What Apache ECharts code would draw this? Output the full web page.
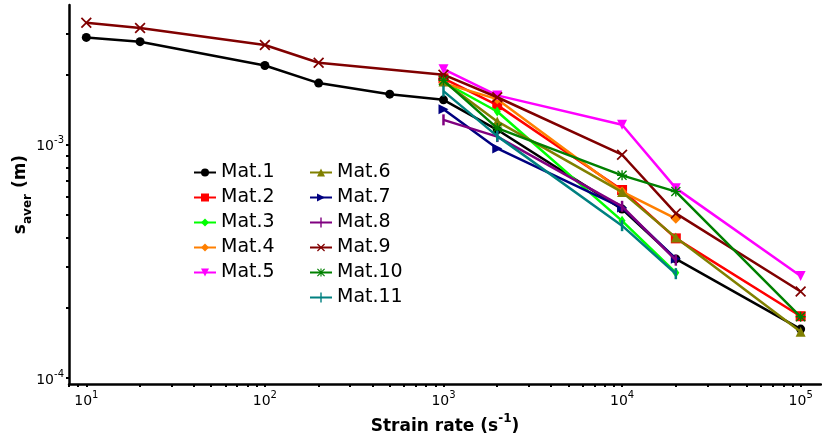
<!DOCTYPE html>
<html>
<head>
<meta charset="utf-8">
<script src="https://cdn.jsdelivr.net/npm/echarts@6/dist/echarts.min.js"></script>
<style>html,body{margin:0;padding:0;background:#fff;}#c{width:822px;height:438px;}</style>
</head>
<body>
<div id="c"></div>
<script>
// ---- data ----
const names = ['Mat.1','Mat.2','Mat.3','Mat.4','Mat.5','Mat.6','Mat.7','Mat.8','Mat.9','Mat.10','Mat.11'];
const xMat1 = [10, 20, 100, 200, 500, 1000, 2000, 10000, 20000, 100000];
const xMat9 = [10, 20, 100, 200, 1000, 2000, 10000, 20000, 100000];
const xLong = [1000, 2000, 10000, 20000, 100000];
const xShort = [1000, 2000, 10000, 20000];
const mat1 = [2.89e-3, 2.77e-3, 2.19e-3, 1.84e-3, 1.65e-3, 1.56e-3, 1.16e-3, 5.3e-4, 3.24e-4, 1.62e-4];
const mat2 = [1.93e-3, 1.48e-3, 6.4e-4, 3.97e-4, 1.84e-4];
const mat3 = [1.86e-3, 1.39e-3, 4.72e-4, 2.83e-4];
const mat4 = [1.84e-3, 1.57e-3, 6.3e-4, 4.82e-4];
const mat5 = [2.11e-3, 1.63e-3, 1.22e-3, 6.52e-4, 2.74e-4];
const mat6 = [1.87e-3, 1.26e-3, 6.27e-4, 4.0e-4, 1.58e-4];
const mat7 = [1.42e-3, 9.65e-4, 5.38e-4, 3.25e-4];
const mat8 = [1.28e-3, 1.085e-3, 5.45e-4, 3.2e-4];
const mat9 = [3.34e-3, 3.17e-3, 2.68e-3, 2.25e-3, 2.0e-3, 1.60e-3, 9.07e-4, 5.08e-4, 2.35e-4];
const mat10 = [1.89e-3, 1.18e-3, 7.4e-4, 6.3e-4, 1.83e-4];
const mat11 = [1.70e-3, 1.09e-3, 4.5e-4, 2.8e-4];
const xTickValues = [8, 9, 10, 20, 30, 40, 50, 60, 70, 80, 90, 100, 200, 300, 400, 500, 600, 700, 800, 900,
  1000, 2000, 3000, 4000, 5000, 6000, 7000, 8000, 9000, 10000, 20000, 30000, 40000, 50000, 60000, 70000, 80000, 90000, 100000];
const xLabelValues = [10, 100, 1000, 10000, 100000];
const yTickValues = [1e-4, 2e-4, 3e-4, 4e-4, 5e-4, 6e-4, 7e-4, 8e-4, 9e-4, 1e-3, 2e-3, 3e-3];
const yLabelValues = [1e-4, 1e-3];

// ---- styling ----
const colors = ['#000000', '#ff0000', '#00ff00', '#ff7f00', '#ff00ff', '#808000', '#000080', '#800080', '#800000', '#008000', '#008080'];
const X_PATH = 'path://M0,1.1L1.1,0L10,8.9L8.9,10Z M8.9,0L10,1.1L1.1,10L0,8.9Z';
const AST_PATH = 'path://M4.3,0H5.7V4.3H10V5.7H5.7V10H4.3V5.7H0V4.3H4.3Z M0,1L1,0L10,9L9,10Z M9,0L10,1L1,10L0,9Z';
const VBAR_ICON = 'path://M0,4.1H22V5.9H0Z M10.3,0H11.7V10H10.3Z';
const symbols = [
  {s: 'circle', size: 9},
  {s: 'rect', size: 10},
  {s: 'diamond', size: [7, 10]},
  {s: 'diamond', size: 10},
  {s: 'triangle', size: 10, rot: 180},
  {s: 'triangle', size: 10},
  {s: 'triangle', size: 10, rot: -90},
  {s: 'rect', size: [2.5, 11], icon: VBAR_ICON},
  {s: X_PATH, size: 11},
  {s: AST_PATH, size: 10},
  {s: 'rect', size: [2.5, 11], icon: VBAR_ICON}
];
const xs = [xMat1, xLong, xShort, xShort, xLong, xLong, xShort, xShort, xMat9, xLong, xShort];
const ys = [mat1, mat2, mat3, mat4, mat5, mat6, mat7, mat8, mat9, mat10, mat11];

const series = names.map((n, k) => ({
  name: n,
  type: 'line',
  data: xs[k].map((x, i) => [x, ys[k][i]]),
  color: colors[k],
  symbol: symbols[k].s,
  symbolSize: symbols[k].size,
  symbolRotate: symbols[k].rot || 0,
  showAllSymbol: true,
  lineStyle: {width: 2.5, color: colors[k]},
  itemStyle: {color: colors[k], borderWidth: 0},
  z: 2 + k,
  animation: false
}));

const FONT = 'DejaVu Sans';
function powLabel(v) {
  const e = Math.round(Math.log10(v));
  return '{b|10}{s|' + e + '}';
}
const labelRich = {
  b: {fontSize: 14, fontFamily: FONT, color: '#000', lineHeight: 18, verticalAlign: 'bottom'},
  s: {fontSize: 10, fontFamily: FONT, color: '#000', lineHeight: 18, verticalAlign: 'top'}
};
function legendData(list, offset) {
  return list.map((n, i) => symbols[offset + i].icon ? {name: n, icon: symbols[offset + i].icon} : n);
}

const legendText = {fontSize: 19, fontFamily: FONT, color: '#000', lineHeight: 21};
const option = {
  backgroundColor: '#fff',
  animation: false,
  grid: {left: 69, right: 1, top: 5, bottom: 54, containLabel: false, outerBoundsMode: 'none'},
  legend: [
    {data: legendData(names.slice(0, 5), 0), orient: 'vertical', left: 193, top: 162, itemWidth: 22, itemHeight: 10, itemGap: 4, textStyle: legendText, padding: 0},
    {data: legendData(names.slice(5), 5), orient: 'vertical', left: 309, top: 162, itemWidth: 22, itemHeight: 10, itemGap: 4, textStyle: legendText, padding: 0}
  ],
  xAxis: {
    type: 'log', logBase: 10, min: 8, max: 130000,
    splitLine: {show: false},
    axisLine: {onZero: false, lineStyle: {color: '#000', width: 2.5}},
    axisTick: {show: true, customValues: xTickValues, length: 3, lineStyle: {color: '#000', width: 2}},
    axisLabel: {customValues: xLabelValues, formatter: powLabel, rich: labelRich, margin: 6},
    name: '{b|Strain rate (s}{s|-1}{b|)}',
    nameLocation: 'middle', nameGap: 29, nameMoveOverlap: false,
    nameTextStyle: {
      rich: {
        b: {fontSize: 17, fontWeight: 'bold', fontFamily: FONT, color: '#000', lineHeight: 22, verticalAlign: 'bottom'},
        s: {fontSize: 12, fontWeight: 'bold', fontFamily: FONT, color: '#000', lineHeight: 22, verticalAlign: 'top'}
      }
    }
  },
  yAxis: {
    type: 'log', logBase: 10, min: 9.42e-5, max: 3.98e-3,
    splitLine: {show: false},
    axisLine: {onZero: false, lineStyle: {color: '#000', width: 2.5}},
    axisTick: {show: true, customValues: yTickValues, length: 3, lineStyle: {color: '#000', width: 2}},
    axisLabel: {customValues: yLabelValues, formatter: powLabel, rich: labelRich, margin: 5},
    name: '{b|s}{s|aver}{b| (m)}',
    nameLocation: 'middle', nameGap: 35, nameRotate: 90, nameMoveOverlap: false,
    nameTextStyle: {
      rich: {
        b: {fontSize: 17, fontWeight: 'bold', fontFamily: FONT, color: '#000', lineHeight: 22, verticalAlign: 'top'},
        s: {fontSize: 12, fontWeight: 'bold', fontFamily: FONT, color: '#000', lineHeight: 22, verticalAlign: 'bottom'}
      }
    }
  },
  series: series
};
const chart = echarts.init(document.getElementById('c'), null, {renderer: 'canvas'});
chart.setOption(option);
</script>
</body>
</html>
